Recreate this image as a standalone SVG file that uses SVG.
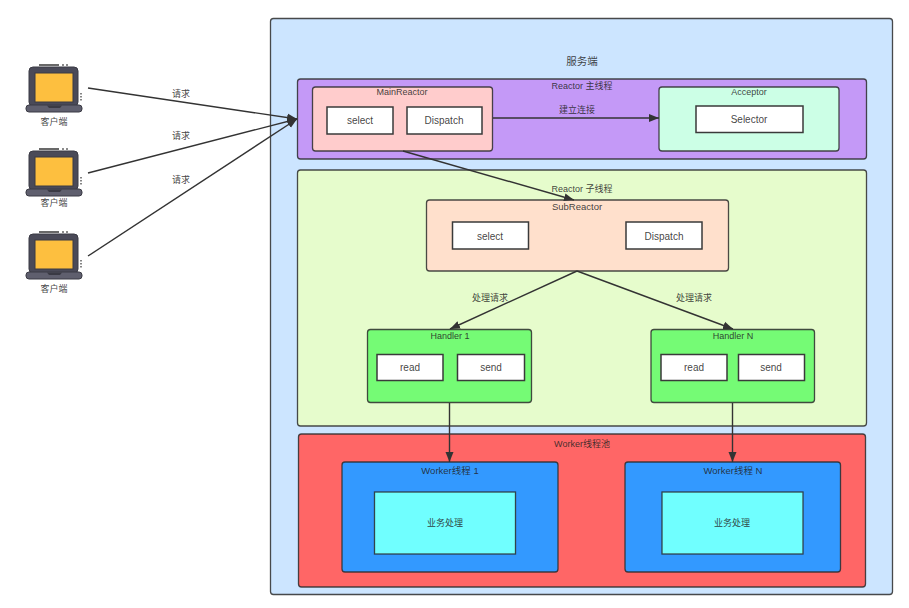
<svg xmlns="http://www.w3.org/2000/svg" width="909" height="608" viewBox="0 0 909 608">
<style>
text{font-family:"Liberation Sans","Noto Sans CJK SC",sans-serif;font-size:9px;fill:#222;fill-opacity:.85;text-anchor:middle}
text.inner{font-size:10px}
text.caption{font-size:9.500px}
.panel{stroke:#2c2c2c;stroke-opacity:.85;stroke-width:1.3}
.box{fill:#fff;stroke:#3a3a3a;stroke-width:1.5}
.wire{fill:none;stroke:#333;stroke-width:1.4;marker-end:url(#head)}
</style>
<defs>
<marker id="head" markerWidth="12" markerHeight="10" refX="10" refY="4.500" orient="auto" markerUnits="userSpaceOnUse"><path d="M0 0.500L10 4.500L0 8.500Z" fill="#333"/></marker>
<!-- laptop icon shared by the three clients -->
<g id="laptop">
<path d="M17 -1H37" stroke="#444" stroke-width="1.6"/>
<path d="M40 -1H42M44 -1H46" stroke="#666" stroke-width="1.6"/>
<rect x="7" y="1" width="49" height="39" rx="4" fill="#4a4a58" stroke="#3a3a44"/>
<rect x="13" y="7" width="38" height="29" fill="#fdbf3f" stroke="#3a3a44"/>
<rect x="4" y="39" width="56" height="7" rx="3" fill="#5f5f6e" stroke="#3a3a44"/>
<path d="M25 39.500H40L38 42H27Z" fill="#3a3a44"/>
<path d="M59 27v1.500M59 30v1.500M59 33v1.500" stroke="#666" stroke-width="1.6"/>
</g>
</defs>
<rect width="909" height="608" fill="#fff"/>
<g id="server"><rect class="panel" x="270.500" y="18.500" width="622" height="576" rx="3" fill="#cce5ff"/><text x="582" y="65" style="font-size:10.500px">服务端</text></g>
<g id="main-thread"><rect class="panel" x="297.500" y="79" width="569" height="80" rx="3" fill="#c499f7"/><text x="582" y="89">Reactor 主线程</text></g>
<g id="main-reactor"><rect class="panel" x="312.500" y="87" width="180" height="64" rx="3" fill="#ffcccc"/><text x="402" y="95">MainReactor</text>
<rect class="box" x="327" y="107" width="66" height="27"/><text class="inner" x="360" y="123.500">select</text>
<rect class="box" x="407" y="107" width="75" height="27"/><text class="inner" x="444" y="123.500">Dispatch</text></g>
<g id="acceptor"><rect class="panel" x="659" y="87" width="180" height="64" rx="3" fill="#ccffe6"/><text x="749" y="95">Acceptor</text>
<rect class="box" x="696" y="106" width="107" height="26.500"/><text class="inner" x="749" y="122.500">Selector</text></g>
<g id="sub-thread"><rect class="panel" x="297.500" y="170" width="569" height="256" rx="3" fill="#e6fccc"/><text x="582" y="192">Reactor 子线程</text></g>
<g id="sub-reactor"><rect class="panel" x="426.500" y="200" width="302" height="71" rx="3" fill="#ffe0cc"/><text class="caption" x="577" y="210">SubReactor</text>
<rect class="box" x="452.500" y="222" width="76" height="27"/><text class="inner" x="490" y="239.500">select</text>
<rect class="box" x="626" y="222" width="76" height="27"/><text class="inner" x="664" y="239.500">Dispatch</text></g>
<g id="handler-1"><rect class="panel" x="367.500" y="329.500" width="164" height="73" rx="3" fill="#75fb75"/><text x="450" y="339">Handler 1</text>
<rect class="box" x="377" y="354.500" width="66" height="26"/><text class="inner" x="410" y="371">read</text>
<rect class="box" x="457.500" y="354.500" width="67" height="26"/><text class="inner" x="491" y="371">send</text></g>
<g id="handler-n"><rect class="panel" x="651" y="329.500" width="163.500" height="73" rx="3" fill="#75fb75"/><text x="733" y="339">Handler N</text>
<rect class="box" x="661" y="354.500" width="66" height="26"/><text class="inner" x="694" y="371">read</text>
<rect class="box" x="738.500" y="354.500" width="66" height="26"/><text class="inner" x="771" y="371">send</text></g>
<g id="worker-pool"><rect class="panel" x="298.500" y="434" width="567" height="153" rx="3" fill="#ff6666"/><text x="582" y="447">Worker线程池</text></g>
<g id="worker-1"><rect class="panel" x="342" y="462" width="216" height="110" rx="3" fill="#3399ff"/><text class="caption" x="450" y="474">Worker线程 1</text>
<rect class="panel" x="374.500" y="492" width="141" height="62" fill="#70ffff"/><text x="445" y="526">业务处理</text></g>
<g id="worker-n"><rect class="panel" x="625" y="462" width="215.500" height="110" rx="3" fill="#3399ff"/><text class="caption" x="733" y="474">Worker线程 N</text>
<rect class="panel" x="662" y="492" width="141" height="62" fill="#70ffff"/><text x="732" y="526">业务处理</text></g>
<g id="client-1"><use href="#laptop" x="22" y="66"/><text x="54" y="125">客户端</text></g>
<g id="client-2"><use href="#laptop" x="22" y="150"/><text x="54" y="206">客户端</text></g>
<g id="client-3"><use href="#laptop" x="22" y="233"/><text x="54" y="292">客户端</text></g>
<g id="connectors">
<path class="wire" d="M88 88L297 119"/>
<path class="wire" d="M88 173L297 119"/>
<path class="wire" d="M88 256L297 119"/>
<path class="wire" d="M493 118H659"/>
<path class="wire" d="M403 151L574 200"/>
<path class="wire" d="M577 271L450 329"/>
<path class="wire" d="M577 271L733 329"/>
<path class="wire" d="M449.500 403V462"/>
<path class="wire" d="M732.500 403V462"/>
<text x="181" y="97">请求</text><text x="181" y="139">请求</text><text x="181" y="183">请求</text>
<text x="577" y="113">建立连接</text>
<text x="490" y="301">处理请求</text><text x="694" y="301">处理请求</text>
</g>
</svg>
